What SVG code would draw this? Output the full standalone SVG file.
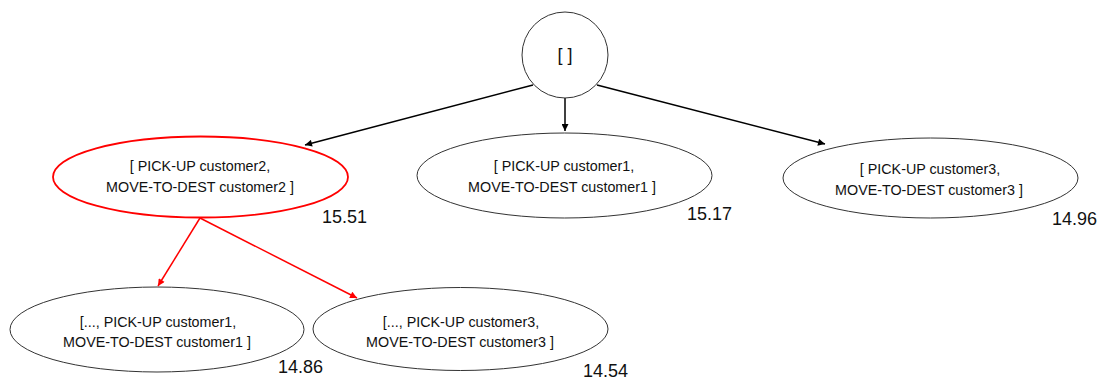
<svg xmlns="http://www.w3.org/2000/svg" width="1104" height="381" viewBox="0 0 1104 381">
  <style>
    .node { fill: #ffffff; stroke: #333333; stroke-width: 1; }
    .node.sel { stroke: #ff0000; stroke-width: 1.8; }
    .lbl { font-family: "Liberation Sans", Arial, sans-serif; font-size: 14.3px; fill: #111111; text-anchor: middle; }
    .score { font-family: "Liberation Sans", Arial, sans-serif; font-size: 18px; fill: #111111; }
    .edge { fill: none; stroke: #000000; stroke-width: 1.5; }
    .edge.red { stroke: #ff0000; }
  </style>
  <defs>
    <marker id="ah" viewBox="0 0 10 10" refX="10" refY="5" markerWidth="8" markerHeight="7" markerUnits="userSpaceOnUse" orient="auto">
      <path d="M0,0 L10,5 L0,10 z" fill="#000000"/>
    </marker>
    <marker id="ahRed" viewBox="0 0 10 10" refX="10" refY="5" markerWidth="8" markerHeight="7" markerUnits="userSpaceOnUse" orient="auto">
      <path d="M0,0 L10,5 L0,10 z" fill="#ff0000"/>
    </marker>
  </defs>
  <rect width="1104" height="381" fill="#ffffff"/>

  <g id="connectors">
    <line class="edge" x1="533" y1="85" x2="305" y2="145" marker-end="url(#ah)"/>
    <line class="edge" x1="565" y1="98" x2="565" y2="131" marker-end="url(#ah)"/>
    <line class="edge" x1="597" y1="85" x2="825" y2="144" marker-end="url(#ah)"/>
    <line class="edge red" x1="200" y1="218" x2="158" y2="286" marker-end="url(#ahRed)"/>
    <line class="edge red" x1="200" y1="218" x2="357" y2="298" marker-end="url(#ahRed)"/>
  </g>

  <g id="root">
    <circle class="node" cx="565" cy="55" r="43"/>
    <text class="lbl" x="565" y="61" style="font-size:18px">[ ]</text>
  </g>

  <g id="n-customer2">
    <ellipse class="node sel" cx="200.5" cy="177" rx="147.5" ry="40.5"/>
    <text class="lbl" x="200" y="171">[ PICK-UP customer2,</text>
    <text class="lbl" x="200" y="192">MOVE-TO-DEST customer2 ]</text>
    <text class="score" x="322" y="223">15.51</text>
  </g>

  <g id="n-customer1">
    <ellipse class="node" cx="564.5" cy="175.5" rx="147.5" ry="42.5"/>
    <text class="lbl" x="564" y="171">[ PICK-UP customer1,</text>
    <text class="lbl" x="562" y="192">MOVE-TO-DEST customer1 ]</text>
    <text class="score" x="687" y="220">15.17</text>
  </g>

  <g id="n-customer3">
    <ellipse class="node" cx="930.5" cy="178" rx="147.5" ry="40"/>
    <text class="lbl" x="930" y="174">[ PICK-UP customer3,</text>
    <text class="lbl" x="929" y="195">MOVE-TO-DEST customer3 ]</text>
    <text class="score" x="1052" y="225">14.96</text>
  </g>

  <g id="n-customer2-1">
    <ellipse class="node" cx="157" cy="329.5" rx="147" ry="42.5"/>
    <text class="lbl" x="158" y="327">[..., PICK-UP customer1,</text>
    <text class="lbl" x="157" y="347">MOVE-TO-DEST customer1 ]</text>
    <text class="score" x="278" y="373">14.86</text>
  </g>

  <g id="n-customer2-3">
    <ellipse class="node" cx="460.5" cy="329" rx="147.5" ry="41.5"/>
    <text class="lbl" x="461" y="327">[..., PICK-UP customer3,</text>
    <text class="lbl" x="460" y="347">MOVE-TO-DEST customer3 ]</text>
    <text class="score" x="583" y="377">14.54</text>
  </g>
</svg>
